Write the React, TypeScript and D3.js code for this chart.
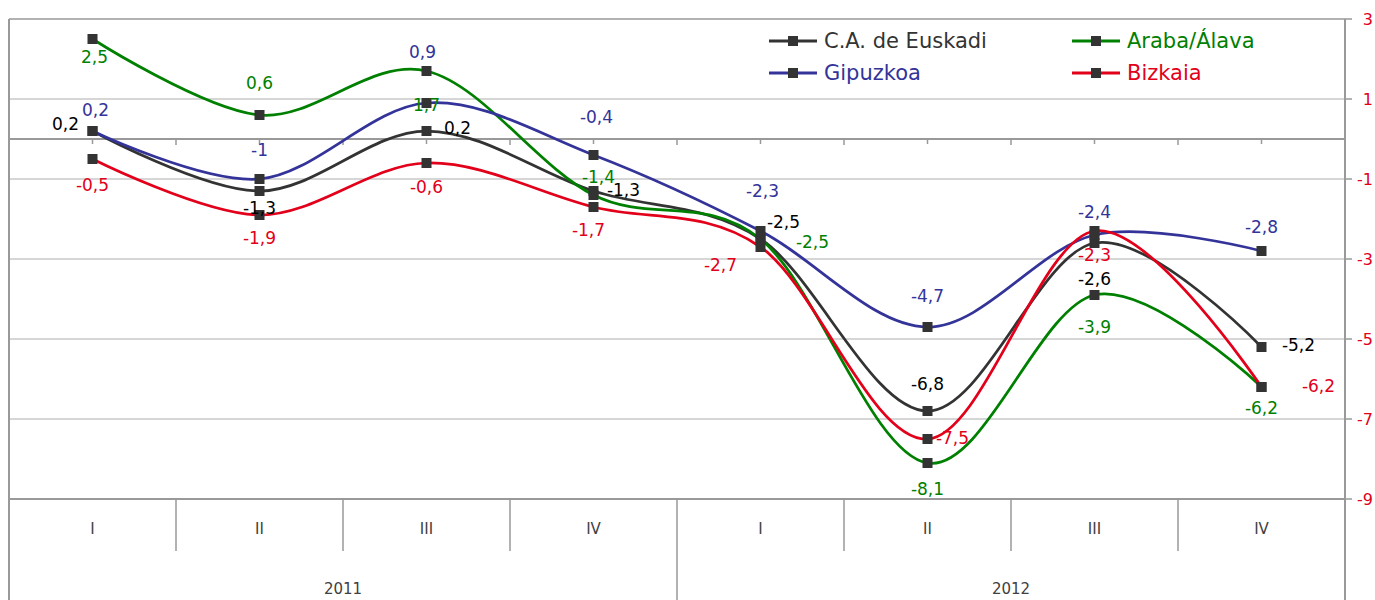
import { useEffect, useRef } from "react";
import * as d3 from "d3";

// Quarters and years
const quarters = ["I", "II", "III", "IV", "I", "II", "III", "IV"];
const years = ["2011", "2012"];

// Series values
const euskadi = [0.2, -1.3, 0.2, -1.3, -2.5, -6.8, -2.6, -5.2];
const araba = [2.5, 0.6, 1.7, -1.4, -2.5, -8.1, -3.9, -6.2];
const gipuzkoa = [0.2, -1, 0.9, -0.4, -2.3, -4.7, -2.4, -2.8];
const bizkaia = [-0.5, -1.9, -0.6, -1.7, -2.7, -7.5, -2.3, -6.2];

const yTicks = [3, 1, -1, -3, -5, -7, -9];

// Label placement relative to each point (dx, dy)
const labelOffsets: Record<string, [number, number][]> = {
  euskadi: [[-27, -7], [0, 17], [31, -3], [30, -1], [23, -17], [0, -27], [0, 36], [37, -2]],
  araba: [[2, 18], [0, -32], [0, 34], [5, -18], [52, 3], [0, 26], [0, 32], [0, 21]],
  gipuzkoa: [[3, -21], [0, -29], [-4, -51], [3, -38], [2, -40], [0, -31], [0, -23], [0, -24]],
  bizkaia: [[0, 26], [0, 23], [0, 24], [-5, 23], [-40, 18], [25, -1], [0, 24], [57, -1]],
};

const series = [
  { key: "euskadi", name: "C.A. de Euskadi", values: euskadi, color: "#333333" },
  { key: "araba", name: "Araba/Álava", values: araba, color: "#008000" },
  { key: "gipuzkoa", name: "Gipuzkoa", values: gipuzkoa, color: "#333399" },
  { key: "bizkaia", name: "Bizkaia", values: bizkaia, color: "#e2001a" },
];

const width = 1375;
const height = 600;
const margin = { top: 19, right: 30, bottom: 101, left: 9 };
const font = "'DejaVu Sans', sans-serif";

export default function App() {
  const svgRef = useRef(null);

  useEffect(() => {
    const svg = d3.select(svgRef.current);
    svg.selectAll("*").remove();

    const plotRight = width - margin.right;
    const plotBottom = height - margin.bottom;

    const xScale = d3
      .scaleBand<number>()
      .domain(d3.range(quarters.length))
      .range([margin.left, plotRight]);

    const yScale = d3
      .scaleLinear()
      .domain([-9, 3])
      .range([plotBottom, margin.top]);

    const cx = (i: number) => (xScale(i) as number) + xScale.bandwidth() / 2;

    // Gridlines
    svg
      .append("g")
      .selectAll("line")
      .data(yTicks)
      .join("line")
      .attr("x1", margin.left)
      .attr("x2", plotRight)
      .attr("y1", (d) => yScale(d))
      .attr("y2", (d) => yScale(d))
      .attr("stroke", (d) => (d === -9 || d === 3 ? "#999" : "#c8c8c8"))
      .attr("stroke-width", (d) => (d === -9 ? 2 : 1.5));

    // Left frame
    svg
      .append("line")
      .attr("x1", margin.left)
      .attr("x2", margin.left)
      .attr("y1", margin.top)
      .attr("y2", height)
      .attr("stroke", "#999")
      .attr("stroke-width", 2);

    // Right axis
    svg
      .append("line")
      .attr("x1", plotRight)
      .attr("x2", plotRight)
      .attr("y1", margin.top)
      .attr("y2", height)
      .attr("stroke", "#999")
      .attr("stroke-width", 2);

    const rightAxis = svg.append("g");
    rightAxis
      .selectAll("line")
      .data(yTicks)
      .join("line")
      .attr("x1", plotRight)
      .attr("x2", plotRight + 7)
      .attr("y1", (d) => yScale(d))
      .attr("y2", (d) => yScale(d))
      .attr("stroke", "#999")
      .attr("stroke-width", 1.5);
    // labels sit against the right edge so they stay readable
    rightAxis
      .selectAll("text")
      .data(yTicks)
      .join("text")
      .attr("x", width - 2)
      .attr("y", (d) => yScale(d))
      .attr("dy", "0.35em")
      .attr("text-anchor", "end")
      .attr("fill", "#e2001a")
      .attr("font-family", font)
      .attr("font-size", 16)
      .text((d) => String(d));

    // Zero line with ticks
    const y0 = yScale(0);
    svg
      .append("line")
      .attr("x1", margin.left)
      .attr("x2", plotRight)
      .attr("y1", y0)
      .attr("y2", y0)
      .attr("stroke", "#999")
      .attr("stroke-width", 2);

    const halfTicks = d3.range(1, quarters.length * 2);
    svg
      .append("g")
      .selectAll("line")
      .data(halfTicks)
      .join("line")
      .attr("x1", (d) => margin.left + (d * xScale.bandwidth()) / 2)
      .attr("x2", (d) => margin.left + (d * xScale.bandwidth()) / 2)
      .attr("y1", y0)
      .attr("y2", (d) => y0 + (d % 2 === 0 ? 6 : 5))
      .attr("stroke", "#999")
      .attr("stroke-width", 1.5);

    // Category axis: quarter separators and labels
    const axis = svg.append("g");
    axis
      .selectAll("line.q")
      .data(d3.range(1, quarters.length))
      .join("line")
      .attr("class", "q")
      .attr("x1", (d) => xScale(d) as number)
      .attr("x2", (d) => xScale(d) as number)
      .attr("y1", plotBottom)
      .attr("y2", (d) => (d % 4 === 0 ? height : plotBottom + 52))
      .attr("stroke", "#999")
      .attr("stroke-width", 1.5);

    axis
      .selectAll("text.q")
      .data(quarters)
      .join("text")
      .attr("class", "q")
      .attr("x", (_, i) => cx(i))
      .attr("y", plotBottom + 35)
      .attr("text-anchor", "middle")
      .attr("fill", "#404040")
      .attr("font-family", font)
      .attr("font-size", 15)
      .text((d) => d);

    axis
      .selectAll("text.y")
      .data(years)
      .join("text")
      .attr("class", "y")
      .attr("x", (_, i) => ((xScale(i * 4) as number) + (xScale(i * 4 + 3) as number) + xScale.bandwidth()) / 2)
      .attr("y", height - 6)
      .attr("text-anchor", "middle")
      .attr("fill", "#404040")
      .attr("font-family", font)
      .attr("font-size", 15)
      .text((d) => d);

    // Lines and markers
    const line = d3
      .line<number>()
      .x((_, i) => cx(i))
      .y((d) => yScale(d))
      .curve(d3.curveCatmullRom.alpha(0));

    series.forEach((s) => {
      svg
        .append("path")
        .datum(s.values)
        .attr("fill", "none")
        .attr("stroke", s.color)
        .attr("stroke-width", 2.75)
        .attr("d", line);

      svg
        .append("g")
        .selectAll("rect")
        .data(s.values)
        .join("rect")
        .attr("x", (_, i) => cx(i) - 5)
        .attr("y", (d) => yScale(d) - 5)
        .attr("width", 10)
        .attr("height", 10)
        .attr("fill", "#333333");
    });

    // Data labels
    series.forEach((s) => {
      svg
        .append("g")
        .selectAll("text")
        .data(s.values)
        .join("text")
        .attr("x", (_, i) => cx(i) + labelOffsets[s.key][i][0])
        .attr("y", (d, i) => yScale(d) + labelOffsets[s.key][i][1])
        .attr("dy", "0.35em")
        .attr("text-anchor", "middle")
        .attr("fill", s.color === "#333333" ? "#000" : s.color)
        .attr("font-family", font)
        .attr("font-size", 17)
        .text((d) => String(d).replace(".", ","));
    });

    // Legend
    const legend = svg.append("g");
    const legendX = [769, 1072];
    const legendY = [41, 73];
    series.forEach((s, i) => {
      const lx = legendX[i % 2];
      const ly = legendY[Math.floor(i / 2)];
      const g = legend.append("g").attr("transform", `translate(${lx}, ${ly})`);
      g.append("line")
        .attr("x1", 0)
        .attr("x2", 48)
        .attr("y1", 0)
        .attr("y2", 0)
        .attr("stroke", s.color)
        .attr("stroke-width", 3);
      g.append("rect")
        .attr("x", 19)
        .attr("y", -5)
        .attr("width", 10)
        .attr("height", 10)
        .attr("fill", "#333333");
      g.append("text")
        .attr("x", 55)
        .attr("y", 0)
        .attr("dy", "0.35em")
        .attr("fill", s.color)
        .attr("font-family", font)
        .attr("font-size", 21)
        .text(s.name);
    });
  }, []);

  return (
    <svg
      ref={svgRef}
      width={width}
      height={height}
      style={{ position: "absolute", left: 0, top: 0, background: "#fff" }}
    />
  );
}
